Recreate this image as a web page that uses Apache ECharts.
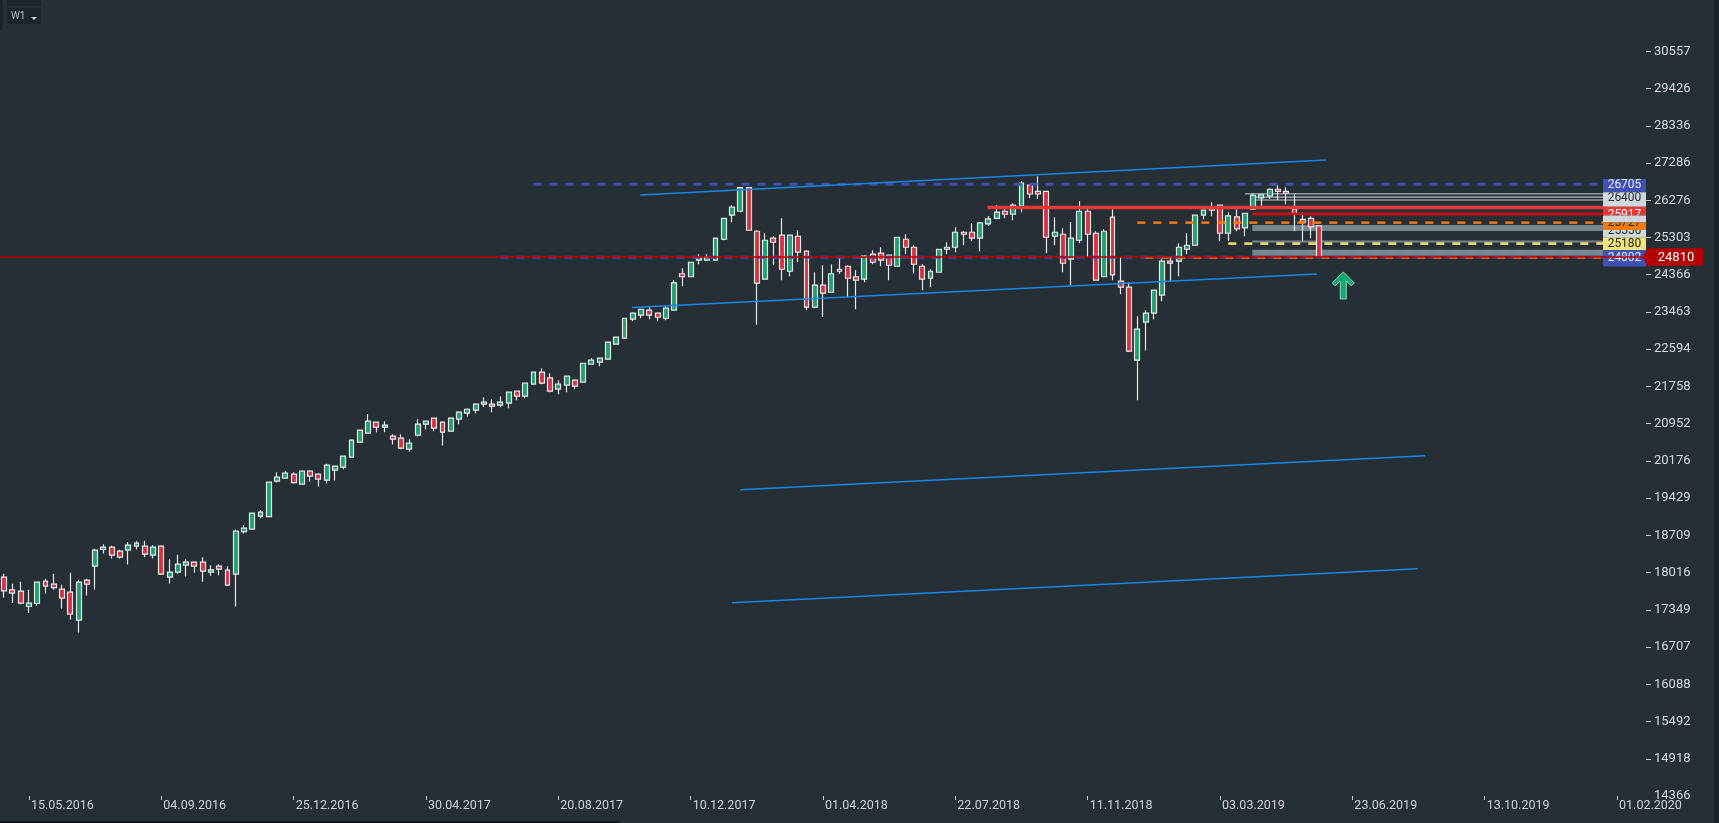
<!DOCTYPE html>
<html>
<head>
<meta charset="utf-8">
<script src="https://cdn.jsdelivr.net/npm/echarts/dist/echarts.min.js"></script>
<style>
html,body{margin:0;padding:0;background:#262f36;overflow:hidden;}
#c{width:1719px;height:823px;}
</style>
</head>
<body>
<div id="c"></div>
<script>
// ---------- DATA (weekly bars, first bar = 3 weeks before 15.05.2016) ----------
const dateLabels = ['15.05.2016','04.09.2016','25.12.2016','30.04.2017','20.08.2017','10.12.2017','01.04.2018','22.07.2018','11.11.2018','03.03.2019','23.06.2019','13.10.2019','01.02.2020'];
const yTickLabels = [14366,14918,15492,16088,16707,17349,18016,18709,19429,20176,20952,21758,22594,23463,24366,25303,26276,27286,28336,29426,30557];

const opens = [17934,17705,17682,17408,17461,17862,17808,17718,17664,17170,17880,18135,18443,18488,18413,18431,18507,18507,18338,18507,
17934,18025,18153,18209,18209,18025,18135,18062,17989,18782,18827,19077,19069,19766,19826,19906,19706,19968,19906,19786,
19988,20049,20252,20563,20752,20984,20878,20688,20646,20417,20709,20942,21069,20984,20794,21048,21176,21241,21370,21370,
21349,21392,21653,21545,21808,22074,21947,21697,21786,21896,21852,22253,22299,22367,22711,22848,23292,23387,23506,23434,
23315,23506,24390,24316,24728,24728,24728,25259,25882,25986,26617,25464,24256,25285,25362,24453,25336,24954,23577,24109,
23938,24502,24577,24316,24256,24879,24904,24854,24577,25259,25054,24577,24280,24428,25004,25054,25438,25438,25285,25653,
25801,25986,25907,26120,26686,26517,26517,25336,25387,24753,25233,25986,25413,24316,25829,24208,24060,22344,23223,23434,
23866,24703,24703,25004,25105,25882,26093,26146,25413,25838,25550,26039,26338,26391,26571,26517,26039,25775,25801,25602];
const highs = [17994,17813,17849,17705,17849,17903,17994,17795,18012,17885,17903,18456,18544,18512,18437,18582,18601,18606,18525,18525,
18264,18344,18264,18227,18301,18153,18172,18135,18814,18904,19141,19199,19750,19946,19974,19946,19980,19988,19926,20117,
20070,20273,20625,20815,21161,20984,21005,20730,20730,20625,21048,21005,21069,21005,21090,21219,21283,21392,21523,21479,
21545,21632,21653,21830,22074,22164,22052,21896,21996,21918,22275,22390,22390,22756,22874,23315,23458,23529,23601,23458,
23601,24239,24527,24677,24879,24879,25285,25801,26146,26617,26617,25490,25413,25336,25801,25362,25490,24979,24429,24602,
24627,24828,24602,24477,24854,24979,25054,24854,25310,25387,25105,24627,24502,25004,25181,25567,25464,25679,25705,25864,
26146,26039,26200,26796,26686,26923,26517,25827,25541,25705,26253,26039,25464,25515,26039,24803,24182,23363,23506,23987,
24753,24828,25156,25413,25882,26013,26226,26146,25960,26039,25933,26462,26418,26598,26679,26625,26444,25960,25856,25602];
const lows = [17567,17468,17450,17292,17426,17639,17705,17373,17180,16956,17603,17710,18368,18275,18275,18164,18443,18301,18275,17975,
17818,17994,17945,18012,17849,17958,17970,17775,17408,18743,18820,19039,19060,19738,19818,19718,19692,19758,19659,19718,
19778,20008,20252,20563,20752,20773,20773,20514,20417,20368,20680,20836,20794,20494,20794,20942,21105,21176,21305,21197,
21305,21283,21457,21501,21808,21808,21632,21587,21632,21697,21852,22253,22208,22367,22711,22848,23246,23315,23292,23246,
23269,23506,24084,24316,24627,24728,24728,25233,25699,25960,25490,23161,24256,24602,24232,24330,24677,23506,23553,23346,
23938,24390,23818,23529,24182,24627,24577,24232,24577,24879,24403,23987,24060,24428,24879,24929,25105,25208,24954,25602,
25775,25801,25750,25960,26338,26311,24904,25105,24428,24109,25156,24803,24232,24316,24232,23890,22530,21457,22563,23292,
23720,24208,24330,24879,25105,25775,25856,25208,25208,25464,25336,26039,26120,26311,26285,26173,25464,25208,25285,24778];
const closes = [17687,17646,17468,17468,17844,17772,17746,17557,17275,17844,17808,18431,18488,18338,18301,18525,18563,18357,18488,17989,
18025,18172,18209,18135,18043,18067,18080,17790,18789,18846,19135,19155,19746,19846,19926,19738,19968,19868,19806,20090,
20070,20273,20605,20815,21005,20878,20920,20626,20438,20542,20942,21005,20857,20773,21069,21197,21261,21370,21414,21327,
21414,21632,21545,21830,22074,21830,21653,21808,21985,21764,22275,22344,22390,22756,22874,23315,23434,23529,23387,23339,
23553,24166,24316,24677,24778,24803,25285,25801,26093,26617,25490,24158,25233,25182,24502,25362,24929,23577,24109,23914,
24390,24453,24280,24232,24828,24677,24728,24602,25310,25054,24627,24256,24453,25004,25054,25438,25387,25285,25679,25784,
25960,25907,26146,26740,26444,26444,25310,25438,24652,25285,25986,25387,24232,25464,24365,24060,22550,23057,23434,23987,
24703,24653,25054,25105,25882,26013,26013,25413,25864,25525,25933,26408,26418,26571,26517,26464,25933,25699,25576,24810];

// horizontal levels (prices)
const levelPrices = {
  blueTop: 26705, blueBottom: 24802, lastPrice: 24810,
  redThick: 26085, redDark: 25917,
  grayThin: [26450, 26360, 26285], orange: 25688, grayBandA: 25550,
  grayThin2: 25200, yellow: 25147, grayBandB: 24916, orangeLow: 24792
};
// trend lines: [[barIndex, price],[barIndex, price]]
const trendLines = [
  [[76.9, 26416], [159.8, 27369]],
  [[75.9, 23568], [158.7, 24387]],
  [[89.0, 19593], [171.8, 20280]],
  [[88.0, 17473], [170.9, 18085]]
];
// right-side price boxes: [top price, bottom price, text, text price]
const priceBoxes = [
  [26850, 26491, '26705', 26688],
  [26491, 26107, '26400', 26347],
  [26107, 25871, '25917', 25880],
  [25871, 25688, '', 25800],
  [25688, 25498, '25727', 25675],
  [25498, 25310, '25556', 25478],
  [25310, 24987, '25180', 25147],
  [24987, 24568, '24802', 24777]
];
const signalArrow = [161.9, 24104];

// ---------- helpers ----------
const step = Math.log(yTickLabels[yTickLabels.length - 1] / yTickLabels[0]) / (yTickLabels.length - 1);
const toV = p => Math.log(p / yTickLabels[0]) / step;
const nCats = 199;
const categories = Array.from({length: nCats}, (_, k) => String(k));
const kEnd = 193.3;  // where price boxes start
const candleData = opens.map((o, j) => [toV(o), toV(closes[j]), toV(lows[j]), toV(highs[j])]);

function hLine(price, from, to, color, width, type, z, dashOffset) {
  return {
    type: 'line', xAxisIndex: 1, yAxisIndex: 0, silent: true, symbol: 'none', z: z,
    data: [[from, toV(price)], [to, toV(price)]],
    lineStyle: {color: color, width: width, type: type || 'solid', dashOffset: dashOffset || 0, cap: 'butt'}
  };
}

const series = [];
levelPrices.grayThin.forEach((p, i) => series.push(hLine(p, i === 0 ? 150 : 150.9, kEnd, '#8e999f', 1.6, 'solid', 1)));
series.push(hLine(levelPrices.grayBandA, 150.9, kEnd, '#78858c', 6, 'solid', 1));
series.push(hLine(levelPrices.grayThin2, 150.9, kEnd, '#78858c', 2, 'solid', 1));
series.push(hLine(levelPrices.grayBandB, 150.9, kEnd, '#78858c', 6, 'solid', 1));

series.push({
  type: 'candlestick', xAxisIndex: 0, yAxisIndex: 0, z: 3, barWidth: 5.4, silent: true,
  data: candleData,
  itemStyle: {color: '#22a06b', color0: '#d6333f', borderColor: '#e6e9eb', borderColor0: '#e6e9eb', borderWidth: 1.2}
});

series.push(hLine(levelPrices.blueTop, 64, kEnd, '#3e4fb4', 3, [8, 8], 4));
series.push(hLine(levelPrices.blueBottom, 60, kEnd, '#3e4fb4', 3, [8, 8], 4));
series.push(hLine(levelPrices.orangeLow, 137, kEnd, '#f57c00', 2, [8, 8], 4, 8));
series.push(hLine(levelPrices.redThick, 118.9, kEnd, '#e53935', 3.5, 'solid', 4));
series.push(hLine(levelPrices.redDark, 150.9, kEnd, '#d10a0a', 2.6, 'solid', 4));
series.push(hLine(levelPrices.orange, 137, kEnd, '#f57c00', 2.5, [8, 8], 4));
series.push(hLine(levelPrices.yellow, 148, kEnd, '#f4e36b', 2.5, [8, 8], 4));

trendLines.forEach(t => series.push({
  type: 'line', xAxisIndex: 1, yAxisIndex: 0, silent: true, symbol: 'none', z: 4,
  data: t.map(pt => [pt[0], toV(pt[1])]),
  lineStyle: {color: '#1787ea', width: 1.5}
}));

const boxStyles = [
  ['#3f51b5', '#e8eaf6'], ['#cfd8dc', '#222b31'], ['#e53935', '#ffffff'], ['#cfd8dc', '#222b31'],
  ['#f57c00', '#222b31'], ['#cfd8dc', '#222b31'], ['#f2e27a', '#222b31'], ['#3f51b5', '#e8eaf6']
];
series.push({
  type: 'custom', xAxisIndex: 1, yAxisIndex: 0, z: 5, silent: true, clip: false,
  data: priceBoxes.map((b, i) => [i]),
  renderItem: function (params, api) {
    const b = priceBoxes[params.dataIndex];
    const st = boxStyles[params.dataIndex];
    const xL = api.coord([kEnd, 0])[0];
    const xR = api.coord([nCats - 0.5, 0])[0];
    const yT = api.coord([0, toV(b[0])])[1];
    const yB = api.coord([0, toV(b[1])])[1];
    const yC = api.coord([0, toV(b[3])])[1];
    const xC = (xL + xR) / 2;
    return {
      type: 'group',
      children: [
        {type: 'rect', shape: {x: xL, y: yT, width: xR - xL, height: yB - yT}, style: {fill: st[0]}},
        {type: 'text', x: xC, y: yC,
          clipPath: {type: 'rect', shape: {x: xL - xC, y: yT - yC, width: xR - xL, height: yB - yT}},
          style: {text: b[2], fill: st[1], font: '12px Roboto', align: 'center', verticalAlign: 'middle'}}
      ]
    };
  }
});

series.push(hLine(levelPrices.lastPrice, -0.5, nCats - 0.5, '#c40000', 1.4, 'solid', 6));
series.push({
  type: 'custom', xAxisIndex: 1, yAxisIndex: 0, z: 7, silent: true, clip: false,
  data: [[nCats - 0.5, toV(levelPrices.lastPrice)]],
  renderItem: function (params, api) {
    const p = api.coord([api.value(0), api.value(1)]);
    const x = p[0], y = p[1], h = 8.7;
    return {
      type: 'group',
      children: [
        {type: 'polygon', shape: {points: [[x - 4, y], [x + 2, y - h], [x + 57, y - h], [x + 57, y + h], [x + 2, y + h]]},
          style: {fill: '#b30000'}},
        {type: 'text', x: x + 30, y: y + 0.5,
          style: {text: String(levelPrices.lastPrice), fill: '#ffffff', font: '13px Roboto', align: 'center', verticalAlign: 'middle'}}
      ]
    };
  }
});

series.push({
  type: 'custom', xAxisIndex: 1, yAxisIndex: 0, z: 7, silent: true, clip: false,
  data: [[signalArrow[0], toV(signalArrow[1])]],
  renderItem: function (params, api) {
    const p = api.coord([api.value(0), api.value(1)]);
    const x = p[0], y = p[1];
    const pts = [[0, -13.5], [11, -2.5], [8, 0.5], [3, -4.5], [3, 13.5], [-3, 13.5], [-3, -4.5], [-8, 0.5], [-11, -2.5]]
      .map(q => [x + q[0], y + q[1]]);
    return {type: 'polygon', shape: {points: pts}, style: {fill: '#14a877', stroke: '#86d8b6', lineWidth: 1}};
  }
});

const chart = echarts.init(document.getElementById('c'), null, {renderer: 'canvas'});
chart.setOption({
  backgroundColor: '#262f36',
  animation: false,
  grid: {left: -2, top: 0, width: 1648, height: 796, containLabel: false},
  xAxis: [
    {
      type: 'category', data: categories, boundaryGap: true, position: 'bottom',
      axisLine: {show: false, onZero: false},
      axisTick: {show: true, alignWithLabel: true, length: 4, lineStyle: {color: '#c9cdd0', width: 1},
        interval: (idx) => idx >= 3 && (idx - 3) % 16 === 0},
      axisLabel: {
        show: true, color: '#cfd3d6', fontFamily: 'Roboto', fontSize: 12.5, align: 'left', margin: 3,
        padding: [0, 0, 0, 2],
        interval: (idx) => idx >= 3 && (idx - 3) % 16 === 0,
        formatter: (val) => {
          const j = (Number(val) - 3) / 16;
          return (Number.isInteger(j) && dateLabels[j]) ? dateLabels[j] : '';
        }
      },
      splitLine: {show: false}
    },
    {type: 'value', min: -0.5, max: nCats - 0.5, show: false, axisLine: {onZero: false}}
  ],
  yAxis: [{
    type: 'value', position: 'right', min: 0, max: toV(32190), interval: 1,
    axisLine: {show: false, onZero: false},
    axisTick: {show: true, length: 5, lineStyle: {color: '#c9cdd0', width: 1}, customValues: yTickLabels.slice(1).map(toV)},
    axisLabel: {
      show: true, color: '#d6dadd', fontFamily: 'Roboto', fontSize: 13, margin: 8,
      customValues: yTickLabels.map(toV),
      formatter: (v) => {
        let best = '', bd = 1e9;
        yTickLabels.forEach(t => { const d = Math.abs(toV(t) - v); if (d < bd) { bd = d; best = String(t); } });
        return bd < 0.05 ? best : '';
      }
    },
    splitLine: {show: false}
  }],
  graphic: [
    {type: 'rect', left: 1714, top: 0, shape: {width: 5, height: 823}, style: {fill: '#1a2025'}, z: 100},
    {type: 'rect', left: 0, top: 0, shape: {width: 2.5, height: 30}, style: {fill: '#1c2328'}, z: 100},
    {type: 'rect', left: 7, top: 0, shape: {width: 34, height: 6}, style: {fill: '#1e252a'}, z: 100},
    {type: 'rect', left: 7, top: 8, shape: {width: 34, height: 16, r: 2}, style: {fill: '#1e252a'}, z: 100},
    {type: 'text', left: 11, top: 11, style: {text: 'W1', fill: '#b9bec2', font: '10px Roboto'}, z: 101},
    {type: 'polygon', shape: {points: [[31, 17], [37, 17], [34, 20]]}, style: {fill: '#c9cdd0'}, z: 101},
    {type: 'rect', left: 0, top: 821, shape: {width: 620, height: 2}, style: {fill: '#12171b'}, z: 100}
  ],
  series: series
});
</script>
</body>
</html>
